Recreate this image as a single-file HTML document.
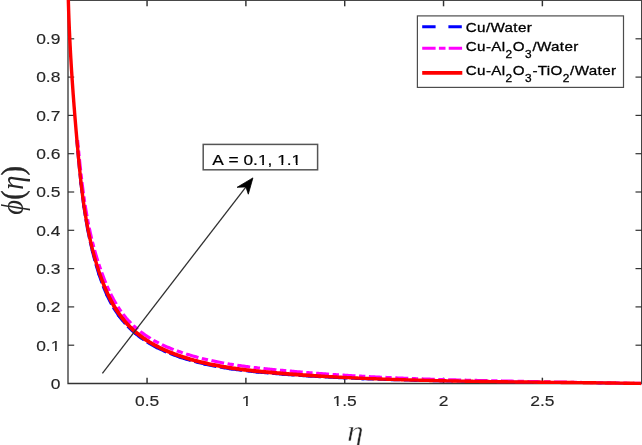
<!DOCTYPE html>
<html><head><meta charset="utf-8"><title>plot</title>
<style>html,body{margin:0;padding:0;background:#fff;overflow:hidden}svg{display:block}</style>
</head><body>
<svg width="642" height="445" viewBox="0 0 642 445">
<rect width="642" height="445" fill="#fff"/>
<g stroke="#333" stroke-width="1.3" fill="none">
<path d="M68.0,0 V383.5 H642"/>
<path d="M68.0,0.5 H642" stroke-width="1" stroke="#484848"/>
<path d="M641.5,0 V383.5" stroke-width="1" stroke="#444"/>
</g>
<g stroke="#333" stroke-width="1.45" fill="none">
<path d="M147.06,383.5 v-5.8"/><path d="M147.06,0.5 v5.8"/>
<path d="M245.89,383.5 v-5.8"/><path d="M245.89,0.5 v5.8"/>
<path d="M344.72,383.5 v-5.8"/><path d="M344.72,0.5 v5.8"/>
<path d="M443.54,383.5 v-5.8"/><path d="M443.54,0.5 v5.8"/>
<path d="M542.37,383.5 v-5.8"/><path d="M542.37,0.5 v5.8"/>
<path d="M68.0,345.20 h6.2" stroke-width="1.2"/><path d="M642,345.20 h-6.5" stroke-width="1.2"/>
<path d="M68.0,306.90 h6.2" stroke-width="1.2"/><path d="M642,306.90 h-6.5" stroke-width="1.2"/>
<path d="M68.0,268.60 h6.2" stroke-width="1.2"/><path d="M642,268.60 h-6.5" stroke-width="1.2"/>
<path d="M68.0,230.30 h6.2" stroke-width="1.2"/><path d="M642,230.30 h-6.5" stroke-width="1.2"/>
<path d="M68.0,192.00 h6.2" stroke-width="1.2"/><path d="M642,192.00 h-6.5" stroke-width="1.2"/>
<path d="M68.0,153.70 h6.2" stroke-width="1.2"/><path d="M642,153.70 h-6.5" stroke-width="1.2"/>
<path d="M68.0,115.40 h6.2" stroke-width="1.2"/><path d="M642,115.40 h-6.5" stroke-width="1.2"/>
<path d="M68.0,77.10 h6.2" stroke-width="1.2"/><path d="M642,77.10 h-6.5" stroke-width="1.2"/>
<path d="M68.0,38.80 h6.2" stroke-width="1.2"/><path d="M642,38.80 h-6.5" stroke-width="1.2"/>
</g>
<clipPath id="cl"><rect x="0" y="140" width="642" height="305"/></clipPath>
<g clip-path="url(#cl)"><g transform="scale(1.15,1)">
<path d="M59.28,-6.00 L59.42,-0.02 L59.44,1.21 L59.47,2.44 L59.50,3.68 L59.53,4.91 L59.56,6.14 L59.60,7.37 L59.63,8.60 L59.66,9.83 L59.69,11.06 L59.73,12.29 L59.77,13.53 L59.80,14.76 L59.84,15.99 L59.88,17.22 L59.92,18.45 L59.95,19.68 L59.99,20.91 L60.04,22.14 L60.08,23.37 L60.12,24.60 L60.16,25.83 L60.21,27.06 L60.25,28.28 L60.29,29.51 L60.34,30.74 L60.39,31.97 L60.43,33.20 L60.48,34.43 L60.53,35.66 L60.58,36.89 L60.63,38.11 L60.68,39.34 L60.73,40.57 L60.78,41.80 L60.84,43.03 L60.89,44.25 L60.94,45.48 L61.00,46.71 L61.05,47.94 L61.11,49.16 L61.16,50.39 L61.22,51.62 L61.28,52.85 L61.34,54.07 L61.40,55.30 L61.46,56.53 L61.52,57.75 L61.58,58.98 L61.64,60.21 L61.70,61.43 L61.76,62.66 L61.82,63.89 L61.89,65.11 L61.95,66.34 L62.02,67.56 L62.08,68.79 L62.15,70.02 L62.22,71.24 L62.28,72.47 L62.35,73.70 L62.42,74.92 L62.49,76.15 L62.56,77.37 L62.63,78.60 L62.70,79.82 L62.77,81.05 L62.84,82.28 L62.91,83.50 L62.98,84.73 L63.06,85.95 L63.13,87.18 L63.20,88.40 L63.28,89.63 L63.35,90.85 L63.43,92.08 L63.51,93.30 L63.58,94.53 L63.66,95.76 L63.74,96.98 L63.81,98.21 L63.89,99.43 L63.97,100.66 L64.05,101.88 L64.13,103.11 L64.21,104.33 L64.29,105.56 L64.37,106.78 L64.46,108.01 L64.54,109.23 L64.62,110.46 L64.70,111.68 L64.79,112.91 L64.87,114.13 L64.95,115.36 L65.04,116.58 L65.12,117.81 L65.21,119.03 L65.30,120.26 L65.38,121.48 L65.47,122.71 L65.56,123.94 L65.64,125.16 L65.73,126.39 L65.82,127.61 L65.91,128.84 L66.00,130.06 L66.09,131.29 L66.18,132.51 L66.27,133.74 L66.36,134.96 L66.45,136.19 L66.54,137.41 L66.63,138.64 L66.72,139.87 L66.82,141.09 L66.91,142.32 L67.00,143.54 L67.09,144.77 L67.19,146.00 L67.28,147.22 L67.38,148.45 L67.47,149.67 L67.57,150.90 L67.66,152.13 L67.76,153.35 L67.85,154.58 L67.95,155.80 L68.04,157.03 L68.14,158.26 L68.24,159.48 L68.34,160.71 L68.44,161.94 L68.54,163.16 L68.64,164.39 L68.74,165.61 L68.84,166.84 L68.95,168.07 L69.05,169.29 L69.16,170.52 L69.26,171.74 L69.37,172.97 L69.48,174.19 L69.59,175.42 L69.70,176.64 L69.81,177.87 L69.92,179.09 L70.04,180.32 L70.15,181.54 L70.27,182.77 L70.39,183.99 L70.51,185.21 L70.63,186.44 L70.75,187.66 L70.88,188.88 L71.00,190.10 L71.13,191.33 L71.26,192.55 L71.39,193.77 L71.52,194.99 L71.66,196.21 L71.79,197.43 L71.93,198.65 L72.07,199.87 L72.22,201.09 L72.36,202.31 L72.51,203.53 L72.65,204.75 L72.81,205.96 L72.96,207.18 L73.11,208.40 L73.26,209.62 L73.42,210.83 L73.58,212.05 L73.74,213.26 L73.91,214.48 L74.08,215.69 L74.25,216.90 L74.42,218.12 L74.59,219.33 L74.77,220.54 L74.95,221.75 L75.13,222.97 L75.32,224.18 L75.51,225.39 L75.70,226.60 L75.89,227.80 L76.09,229.01 L76.29,230.22 L76.49,231.43 L76.69,232.63 L76.90,233.84 L77.12,235.04 L77.33,236.25 L77.55,237.45 L77.77,238.65 L78.00,239.86 L78.22,241.06 L78.45,242.26 L78.69,243.46 L78.93,244.66 L79.17,245.86 L79.41,247.05 L79.66,248.25 L79.92,249.45 L80.17,250.64 L80.43,251.84 L80.69,253.04 L80.95,254.23 L81.21,255.43 L81.48,256.62 L81.75,257.81 L82.03,259.00 L82.31,260.20 L82.59,261.39 L82.88,262.58 L83.17,263.77 L83.47,264.95 L83.77,266.14 L84.08,267.33 L84.38,268.52 L84.70,269.70 L85.01,270.89 L85.34,272.07 L85.66,273.25 L85.99,274.43 L86.33,275.61 L86.68,276.79 L87.03,277.97 L87.38,279.14 L87.75,280.32 L88.11,281.49 L88.48,282.66 L88.86,283.83 L89.24,284.99 L89.63,286.16 L90.03,287.32 L90.43,288.48 L90.84,289.63 L91.25,290.78 L91.67,291.93 L92.10,293.08 L92.54,294.22 L92.98,295.36 L93.43,296.49 L93.89,297.62 L94.35,298.74 L94.83,299.86 L95.31,300.98 L95.81,302.08 L96.32,303.17 L96.84,304.26 L97.38,305.34 L97.92,306.42 L98.46,307.49 L99.02,308.55 L99.59,309.60 L100.17,310.65 L100.76,311.69 L101.36,312.72 L101.96,313.74 L102.58,314.76 L103.21,315.76 L103.85,316.76 L104.50,317.75 L105.16,318.73 L105.83,319.70 L106.51,320.66 L107.20,321.62 L107.90,322.56 L108.61,323.49 L109.33,324.41 L110.06,325.32 L110.79,326.22 L111.54,327.12 L112.30,328.00 L113.07,328.87 L113.84,329.73 L114.63,330.57 L115.42,331.41 L116.22,332.24 L117.03,333.05 L117.85,333.86 L118.68,334.65 L119.52,335.43 L120.37,336.20 L121.22,336.95 L122.08,337.70 L122.95,338.43 L123.83,339.15 L124.72,339.86 L125.61,340.55 L126.51,341.24 L127.41,341.91 L128.33,342.57 L129.25,343.23 L130.17,343.87 L131.10,344.50 L132.04,345.12 L132.98,345.72 L133.93,346.32 L134.89,346.91 L135.85,347.49 L136.81,348.06 L137.78,348.62 L138.75,349.17 L139.73,349.71 L140.71,350.24 L141.70,350.76 L142.69,351.27 L143.68,351.77 L144.68,352.27 L145.68,352.75 L146.68,353.23 L147.68,353.70 L148.69,354.16 L149.70,354.62 L150.72,355.06 L151.73,355.50 L152.75,355.93 L153.77,356.36 L154.79,356.77 L155.81,357.18 L156.84,357.58 L157.86,357.97 L158.89,358.35 L159.92,358.73 L160.95,359.10 L161.98,359.46 L163.01,359.82 L164.04,360.17 L165.08,360.51 L166.11,360.85 L167.15,361.18 L168.19,361.51 L169.22,361.83 L170.26,362.14 L171.30,362.45 L172.34,362.76 L173.39,363.05 L174.43,363.35 L175.47,363.63 L176.52,363.91 L177.56,364.19 L178.61,364.46 L179.65,364.73 L180.70,364.99 L181.75,365.24 L182.80,365.50 L183.85,365.74 L184.90,365.98 L185.95,366.22 L187.00,366.45 L188.06,366.68 L189.11,366.90 L190.16,367.12 L191.22,367.34 L192.27,367.55 L193.33,367.75 L194.39,367.95 L195.44,368.15 L196.50,368.35 L197.56,368.54 L198.62,368.72 L199.68,368.91 L200.74,369.09 L201.80,369.26 L202.86,369.44 L203.92,369.60 L204.98,369.77 L206.04,369.93 L207.11,370.09 L208.17,370.25 L209.23,370.40 L210.30,370.55 L211.36,370.70 L212.42,370.85 L213.49,370.99 L214.55,371.13 L215.62,371.27 L216.68,371.40 L217.75,371.53 L218.82,371.67 L219.88,371.79 L220.95,371.92 L222.01,372.04 L223.08,372.17 L224.15,372.29 L225.21,372.40 L226.28,372.52 L227.35,372.64 L228.42,372.75 L229.48,372.86 L230.55,372.97 L231.62,373.08 L232.68,373.19 L233.75,373.30 L234.82,373.40 L235.89,373.51 L236.95,373.61 L238.02,373.72 L239.09,373.82 L240.15,373.92 L241.22,374.02 L242.29,374.12 L243.36,374.22 L244.42,374.31 L245.49,374.41 L246.56,374.51 L247.63,374.60 L248.69,374.69 L249.76,374.79 L250.83,374.88 L251.89,374.97 L252.96,375.06 L254.03,375.15 L255.10,375.23 L256.16,375.32 L257.23,375.41 L258.30,375.49 L259.37,375.58 L260.43,375.66 L261.50,375.74 L262.57,375.83 L263.64,375.91 L264.70,375.99 L265.77,376.07 L266.84,376.14 L267.91,376.22 L268.97,376.30 L270.04,376.37 L271.11,376.45 L272.18,376.52 L273.24,376.60 L274.31,376.67 L275.38,376.74 L276.45,376.81 L277.51,376.88 L278.58,376.95 L279.65,377.02 L280.72,377.09 L281.79,377.16 L282.85,377.22 L283.92,377.29 L284.99,377.35 L286.06,377.42 L287.12,377.48 L288.19,377.54 L289.26,377.61 L290.33,377.67 L291.40,377.73 L292.46,377.79 L293.53,377.85 L294.60,377.91 L295.67,377.96 L296.73,378.02 L297.80,378.08 L298.87,378.14 L299.94,378.19 L301.01,378.25 L302.07,378.30 L303.14,378.35 L304.21,378.41 L305.28,378.46 L306.35,378.51 L307.42,378.56 L308.48,378.61 L309.55,378.66 L310.62,378.71 L311.69,378.76 L312.76,378.81 L313.82,378.86 L314.89,378.90 L315.96,378.95 L317.03,378.99 L318.10,379.04 L319.16,379.08 L320.23,379.13 L321.30,379.17 L322.37,379.22 L323.44,379.26 L324.51,379.30 L325.57,379.34 L326.64,379.39 L327.71,379.43 L328.78,379.47 L329.85,379.51 L330.92,379.55 L331.98,379.59 L333.05,379.62 L334.12,379.66 L335.19,379.70 L336.26,379.74 L337.33,379.77 L338.40,379.81 L339.46,379.85 L340.53,379.88 L341.60,379.92 L342.67,379.95 L343.74,379.99 L344.81,380.02 L345.88,380.05 L346.94,380.09 L348.01,380.12 L349.08,380.15 L350.15,380.19 L351.22,380.22 L352.29,380.25 L353.36,380.28 L354.43,380.31 L355.49,380.34 L356.56,380.37 L357.63,380.40 L358.70,380.43 L359.77,380.46 L360.84,380.49 L361.91,380.52 L362.98,380.54 L364.04,380.57 L365.11,380.60 L366.18,380.63 L367.25,380.65 L368.32,380.68 L369.39,380.70 L370.46,380.73 L371.53,380.76 L372.60,380.78 L373.67,380.81 L374.73,380.83 L375.80,380.85 L376.87,380.88 L377.94,380.90 L379.01,380.92 L380.08,380.95 L381.15,380.97 L382.22,380.99 L383.29,381.01 L384.36,381.04 L385.43,381.06 L386.49,381.08 L387.56,381.10 L388.63,381.13 L389.70,381.15 L390.77,381.17 L391.84,381.20 L392.91,381.22 L393.98,381.24 L395.05,381.26 L396.12,381.28 L397.19,381.30 L398.25,381.32 L399.32,381.35 L400.39,381.37 L401.46,381.39 L402.53,381.41 L403.60,381.43 L404.67,381.44 L405.74,381.46 L406.81,381.48 L407.88,381.50 L408.95,381.52 L410.02,381.54 L411.09,381.56 L412.16,381.57 L413.22,381.59 L414.29,381.61 L415.36,381.63 L416.43,381.64 L417.50,381.66 L418.57,381.68 L419.64,381.69 L420.71,381.71 L421.78,381.73 L422.85,381.74 L423.92,381.76 L424.99,381.77 L426.06,381.79 L427.13,381.81 L428.20,381.82 L429.26,381.84 L430.33,381.85 L431.40,381.87 L432.47,381.88 L433.54,381.89 L434.61,381.91 L435.68,381.92 L436.75,381.94 L437.82,381.95 L438.89,381.96 L439.96,381.98 L441.03,381.99 L442.10,382.00 L443.17,382.02 L444.24,382.03 L445.31,382.04 L446.37,382.06 L447.44,382.07 L448.51,382.08 L449.58,382.09 L450.65,382.11 L451.72,382.12 L452.79,382.13 L453.86,382.14 L454.93,382.16 L456.00,382.17 L457.07,382.18 L458.14,382.19 L459.21,382.20 L460.28,382.21 L461.35,382.23 L462.42,382.24 L463.49,382.25 L464.55,382.26 L465.62,382.27 L466.69,382.28 L467.76,382.29 L468.83,382.30 L469.90,382.32 L470.97,382.33 L472.04,382.34 L473.11,382.35 L474.18,382.36 L475.25,382.37 L476.32,382.39 L477.39,382.40 L478.46,382.41 L479.53,382.42 L480.60,382.43 L481.66,382.45 L482.73,382.46 L483.80,382.47 L484.87,382.48 L485.94,382.49 L487.01,382.51 L488.08,382.52 L489.15,382.53 L490.22,382.54 L491.29,382.55 L492.36,382.57 L493.43,382.58 L494.50,382.59 L495.56,382.60 L496.63,382.61 L497.70,382.63 L498.77,382.64 L499.84,382.65 L500.91,382.66 L501.98,382.67 L503.05,382.69 L504.12,382.70 L505.19,382.71 L506.26,382.72 L507.33,382.74 L508.40,382.75 L509.46,382.76 L510.53,382.77 L511.60,382.79 L512.67,382.80 L513.74,382.81 L514.81,382.82 L515.88,382.84 L516.95,382.85 L518.02,382.86 L519.09,382.88 L520.15,382.89 L521.22,382.90 L522.29,382.92 L523.36,382.93 L524.43,382.94 L525.50,382.96 L526.57,382.97 L527.64,382.98 L528.71,383.00 L529.77,383.01 L530.84,383.03 L531.91,383.04 L532.98,383.06 L534.05,383.07 L535.12,383.09 L536.19,383.10 L537.26,383.12 L538.33,383.13 L539.39,383.15 L540.46,383.16 L541.53,383.18 L542.60,383.19 L543.67,383.21 L544.74,383.22 L545.81,383.24 L546.87,383.26 L547.94,383.27 L549.01,383.29 L550.08,383.31 L551.15,383.32 L552.22,383.34 L553.29,383.36 L554.35,383.38 L555.42,383.39 L556.49,383.41 L557.56,383.43" fill="none" stroke="#0000ff" stroke-width="2.5" stroke-dasharray="11.3 11.65" stroke-dashoffset="18.27"/>
<path d="M59.28,-6.00 L59.42,-0.02 L59.44,1.21 L59.47,2.44 L59.50,3.68 L59.53,4.91 L59.56,6.14 L59.60,7.37 L59.63,8.60 L59.66,9.83 L59.69,11.06 L59.73,12.29 L59.77,13.53 L59.80,14.76 L59.84,15.99 L59.88,17.22 L59.92,18.45 L59.95,19.68 L59.99,20.91 L60.04,22.14 L60.08,23.37 L60.12,24.60 L60.16,25.83 L60.21,27.06 L60.25,28.28 L60.29,29.51 L60.34,30.74 L60.39,31.97 L60.43,33.20 L60.48,34.43 L60.53,35.66 L60.58,36.89 L60.63,38.11 L60.68,39.34 L60.73,40.57 L60.78,41.80 L60.84,43.03 L60.89,44.25 L60.94,45.48 L61.00,46.71 L61.05,47.94 L61.11,49.16 L61.16,50.39 L61.22,51.62 L61.28,52.85 L61.34,54.07 L61.40,55.30 L61.46,56.53 L61.52,57.75 L61.58,58.98 L61.64,60.21 L61.70,61.43 L61.76,62.66 L61.82,63.89 L61.89,65.11 L61.95,66.34 L62.02,67.56 L62.08,68.79 L62.15,70.02 L62.22,71.24 L62.28,72.47 L62.35,73.70 L62.42,74.92 L62.49,76.15 L62.56,77.37 L62.63,78.60 L62.70,79.82 L62.77,81.05 L62.84,82.28 L62.91,83.50 L62.98,84.73 L63.06,85.95 L63.13,87.18 L63.20,88.40 L63.28,89.63 L63.35,90.85 L63.43,92.08 L63.51,93.30 L63.58,94.53 L63.66,95.76 L63.74,96.98 L63.81,98.21 L63.89,99.43 L63.97,100.66 L64.05,101.88 L64.13,103.11 L64.21,104.33 L64.29,105.56 L64.37,106.78 L64.46,108.01 L64.54,109.23 L64.62,110.46 L64.70,111.68 L64.79,112.91 L64.87,114.13 L64.95,115.36 L65.04,116.58 L65.12,117.81 L65.21,119.03 L65.30,120.26 L65.38,121.48 L65.47,122.71 L65.56,123.94 L65.64,125.16 L65.73,126.39 L65.82,127.61 L65.91,128.84 L66.00,130.06 L66.09,131.29 L66.18,132.51 L66.27,133.74 L66.36,134.96 L66.45,136.19 L66.54,137.41 L66.63,138.64 L66.72,139.87 L66.82,141.09 L66.91,142.32 L67.00,143.54 L67.09,144.77 L67.19,146.00 L67.28,147.22 L67.38,148.45 L67.47,149.67 L67.57,150.90 L67.66,152.13 L67.76,153.35 L67.85,154.58 L67.95,155.80 L68.04,157.03 L68.14,158.26 L68.24,159.48 L68.34,160.71 L68.44,161.94 L68.54,163.16 L68.64,164.39 L68.74,165.61 L68.84,166.84 L68.95,168.07 L69.05,169.29 L69.16,170.52 L69.26,171.74 L69.37,172.97 L69.48,174.19 L69.59,175.42 L69.70,176.64 L69.81,177.87 L69.92,179.09 L70.04,180.32 L70.15,181.54 L70.27,182.77 L70.39,183.99 L70.51,185.21 L70.63,186.44 L70.75,187.66 L70.88,188.88 L71.00,190.10 L71.13,191.33 L71.26,192.55 L71.39,193.77 L71.52,194.99 L71.66,196.21 L71.79,197.43 L71.93,198.65 L72.07,199.87 L72.22,201.09 L72.36,202.31 L72.51,203.53 L72.65,204.75 L72.81,205.96 L72.96,207.18 L73.11,208.40 L73.26,209.62 L73.42,210.83 L73.58,212.05 L73.74,213.26 L73.91,214.48 L74.08,215.69 L74.25,216.90 L74.42,218.12 L74.59,219.33 L74.77,220.54 L74.95,221.75 L75.13,222.97 L75.32,224.18 L75.51,225.39 L75.70,226.60 L75.89,227.80 L76.09,229.01 L76.29,230.22 L76.49,231.43 L76.69,232.63 L76.90,233.84 L77.12,235.04 L77.33,236.25 L77.55,237.45 L77.77,238.65 L78.00,239.86 L78.22,241.06 L78.45,242.26 L78.69,243.46 L78.93,244.66 L79.17,245.86 L79.41,247.05 L79.66,248.25 L79.92,249.45 L80.17,250.64 L80.43,251.84 L80.69,253.04 L80.95,254.23 L81.21,255.43 L81.48,256.62 L81.75,257.81 L82.03,259.00 L82.31,260.20 L82.59,261.39 L82.88,262.58 L83.17,263.77 L83.47,264.95 L83.77,266.14 L84.08,267.33 L84.38,268.52 L84.70,269.70 L85.01,270.89 L85.34,272.07 L85.66,273.25 L85.99,274.43 L86.33,275.61 L86.68,276.79 L87.03,277.97 L87.38,279.14 L87.75,280.32 L88.11,281.49 L88.48,282.66 L88.86,283.83 L89.24,284.99 L89.63,286.16 L90.03,287.32 L90.43,288.48 L90.84,289.63 L91.25,290.78 L91.67,291.93 L92.10,293.08 L92.54,294.22 L92.98,295.36 L93.43,296.49 L93.89,297.62 L94.35,298.74 L94.83,299.86 L95.31,300.98 L95.81,302.08 L96.32,303.17 L96.84,304.26 L97.38,305.34 L97.92,306.42 L98.46,307.49 L99.02,308.55 L99.59,309.60 L100.17,310.65 L100.76,311.69 L101.36,312.72 L101.96,313.74 L102.58,314.76 L103.21,315.76 L103.85,316.76 L104.50,317.75 L105.16,318.73 L105.83,319.70 L106.51,320.66 L107.20,321.62 L107.90,322.56 L108.61,323.49 L109.33,324.41 L110.06,325.32 L110.79,326.22 L111.54,327.12 L112.30,328.00 L113.07,328.87 L113.84,329.73 L114.63,330.57 L115.42,331.41 L116.22,332.24 L117.03,333.05 L117.85,333.86 L118.68,334.65 L119.52,335.43 L120.37,336.20 L121.22,336.95 L122.08,337.70 L122.95,338.43 L123.83,339.15 L124.72,339.86 L125.61,340.55 L126.51,341.24 L127.41,341.91 L128.33,342.57 L129.25,343.23 L130.17,343.87 L131.10,344.50 L132.04,345.12 L132.98,345.72 L133.93,346.32 L134.89,346.91 L135.85,347.49 L136.81,348.06 L137.78,348.62 L138.75,349.17 L139.73,349.71 L140.71,350.24 L141.70,350.76 L142.69,351.27 L143.68,351.77 L144.68,352.27 L145.68,352.75 L146.68,353.23 L147.68,353.70 L148.69,354.16 L149.70,354.62 L150.72,355.06 L151.73,355.50 L152.75,355.93 L153.77,356.36 L154.79,356.77 L155.81,357.18 L156.84,357.58 L157.86,357.97 L158.89,358.35 L159.92,358.73 L160.95,359.10 L161.98,359.46 L163.01,359.82 L164.04,360.17 L165.08,360.51 L166.11,360.85 L167.15,361.18 L168.19,361.51 L169.22,361.83 L170.26,362.14 L171.30,362.45 L172.34,362.76 L173.39,363.05 L174.43,363.35 L175.47,363.63 L176.52,363.91 L177.56,364.19 L178.61,364.46 L179.65,364.73 L180.70,364.99 L181.75,365.24 L182.80,365.50 L183.85,365.74 L184.90,365.98 L185.95,366.22 L187.00,366.45 L188.06,366.68 L189.11,366.90 L190.16,367.12 L191.22,367.34 L192.27,367.55 L193.33,367.75 L194.39,367.95 L195.44,368.15 L196.50,368.35 L197.56,368.54 L198.62,368.72 L199.68,368.91 L200.74,369.09 L201.80,369.26 L202.86,369.44 L203.92,369.60 L204.98,369.77 L206.04,369.93 L207.11,370.09 L208.17,370.25 L209.23,370.40 L210.30,370.55 L211.36,370.70 L212.42,370.85 L213.49,370.99 L214.55,371.13 L215.62,371.27 L216.68,371.40 L217.75,371.53 L218.82,371.67 L219.88,371.79 L220.95,371.92 L222.01,372.04 L223.08,372.17 L224.15,372.29 L225.21,372.40 L226.28,372.52 L227.35,372.64 L228.42,372.75 L229.48,372.86 L230.55,372.97 L231.62,373.08 L232.68,373.19 L233.75,373.30 L234.82,373.40 L235.89,373.51 L236.95,373.61 L238.02,373.72 L239.09,373.82 L240.15,373.92 L241.22,374.02 L242.29,374.12 L243.36,374.22 L244.42,374.31 L245.49,374.41 L246.56,374.51 L247.63,374.60 L248.69,374.69 L249.76,374.79 L250.83,374.88 L251.89,374.97 L252.96,375.06 L254.03,375.15 L255.10,375.23 L256.16,375.32 L257.23,375.41 L258.30,375.49 L259.37,375.58 L260.43,375.66 L261.50,375.74 L262.57,375.83 L263.64,375.91 L264.70,375.99 L265.77,376.07 L266.84,376.14 L267.91,376.22 L268.97,376.30 L270.04,376.37 L271.11,376.45 L272.18,376.52 L273.24,376.60 L274.31,376.67 L275.38,376.74 L276.45,376.81 L277.51,376.88 L278.58,376.95 L279.65,377.02 L280.72,377.09 L281.79,377.16 L282.85,377.22 L283.92,377.29 L284.99,377.35 L286.06,377.42 L287.12,377.48 L288.19,377.54 L289.26,377.61 L290.33,377.67 L291.40,377.73 L292.46,377.79 L293.53,377.85 L294.60,377.91 L295.67,377.96 L296.73,378.02 L297.80,378.08 L298.87,378.14 L299.94,378.19 L301.01,378.25 L302.07,378.30 L303.14,378.35 L304.21,378.41 L305.28,378.46 L306.35,378.51 L307.42,378.56 L308.48,378.61 L309.55,378.66 L310.62,378.71 L311.69,378.76 L312.76,378.81 L313.82,378.86 L314.89,378.90 L315.96,378.95 L317.03,378.99 L318.10,379.04 L319.16,379.08 L320.23,379.13 L321.30,379.17 L322.37,379.22 L323.44,379.26 L324.51,379.30 L325.57,379.34 L326.64,379.39 L327.71,379.43 L328.78,379.47 L329.85,379.51 L330.92,379.55 L331.98,379.59 L333.05,379.62 L334.12,379.66 L335.19,379.70 L336.26,379.74 L337.33,379.77 L338.40,379.81 L339.46,379.85 L340.53,379.88 L341.60,379.92 L342.67,379.95 L343.74,379.99 L344.81,380.02 L345.88,380.05 L346.94,380.09 L348.01,380.12 L349.08,380.15 L350.15,380.19 L351.22,380.22 L352.29,380.25 L353.36,380.28 L354.43,380.31 L355.49,380.34 L356.56,380.37 L357.63,380.40 L358.70,380.43 L359.77,380.46 L360.84,380.49 L361.91,380.52 L362.98,380.54 L364.04,380.57 L365.11,380.60 L366.18,380.63 L367.25,380.65 L368.32,380.68 L369.39,380.70 L370.46,380.73 L371.53,380.76 L372.60,380.78 L373.67,380.81 L374.73,380.83 L375.80,380.85 L376.87,380.88 L377.94,380.90 L379.01,380.92 L380.08,380.95 L381.15,380.97 L382.22,380.99 L383.29,381.01 L384.36,381.04 L385.43,381.06 L386.49,381.08 L387.56,381.10 L388.63,381.13 L389.70,381.15 L390.77,381.17 L391.84,381.20 L392.91,381.22 L393.98,381.24 L395.05,381.26 L396.12,381.28 L397.19,381.30 L398.25,381.32 L399.32,381.35 L400.39,381.37 L401.46,381.39 L402.53,381.41 L403.60,381.43 L404.67,381.44 L405.74,381.46 L406.81,381.48 L407.88,381.50 L408.95,381.52 L410.02,381.54 L411.09,381.56 L412.16,381.57 L413.22,381.59 L414.29,381.61 L415.36,381.63 L416.43,381.64 L417.50,381.66 L418.57,381.68 L419.64,381.69 L420.71,381.71 L421.78,381.73 L422.85,381.74 L423.92,381.76 L424.99,381.77 L426.06,381.79 L427.13,381.81 L428.20,381.82 L429.26,381.84 L430.33,381.85 L431.40,381.87 L432.47,381.88 L433.54,381.89 L434.61,381.91 L435.68,381.92 L436.75,381.94 L437.82,381.95 L438.89,381.96 L439.96,381.98 L441.03,381.99 L442.10,382.00 L443.17,382.02 L444.24,382.03 L445.31,382.04 L446.37,382.06 L447.44,382.07 L448.51,382.08 L449.58,382.09 L450.65,382.11 L451.72,382.12 L452.79,382.13 L453.86,382.14 L454.93,382.16 L456.00,382.17 L457.07,382.18 L458.14,382.19 L459.21,382.20 L460.28,382.21 L461.35,382.23 L462.42,382.24 L463.49,382.25 L464.55,382.26 L465.62,382.27 L466.69,382.28 L467.76,382.29 L468.83,382.30 L469.90,382.32 L470.97,382.33 L472.04,382.34 L473.11,382.35 L474.18,382.36 L475.25,382.37 L476.32,382.39 L477.39,382.40 L478.46,382.41 L479.53,382.42 L480.60,382.43 L481.66,382.45 L482.73,382.46 L483.80,382.47 L484.87,382.48 L485.94,382.49 L487.01,382.51 L488.08,382.52 L489.15,382.53 L490.22,382.54 L491.29,382.55 L492.36,382.57 L493.43,382.58 L494.50,382.59 L495.56,382.60 L496.63,382.61 L497.70,382.63 L498.77,382.64 L499.84,382.65 L500.91,382.66 L501.98,382.67 L503.05,382.69 L504.12,382.70 L505.19,382.71 L506.26,382.72 L507.33,382.74 L508.40,382.75 L509.46,382.76 L510.53,382.77 L511.60,382.79 L512.67,382.80 L513.74,382.81 L514.81,382.82 L515.88,382.84 L516.95,382.85 L518.02,382.86 L519.09,382.88 L520.15,382.89 L521.22,382.90 L522.29,382.92 L523.36,382.93 L524.43,382.94 L525.50,382.96 L526.57,382.97 L527.64,382.98 L528.71,383.00 L529.77,383.01 L530.84,383.03 L531.91,383.04 L532.98,383.06 L534.05,383.07 L535.12,383.09 L536.19,383.10 L537.26,383.12 L538.33,383.13 L539.39,383.15 L540.46,383.16 L541.53,383.18 L542.60,383.19 L543.67,383.21 L544.74,383.22 L545.81,383.24 L546.87,383.26 L547.94,383.27 L549.01,383.29 L550.08,383.31 L551.15,383.32 L552.22,383.34 L553.29,383.36 L554.35,383.38 L555.42,383.39 L556.49,383.41 L557.56,383.43" fill="none" stroke="#0000ff" stroke-width="2.5" stroke-dasharray="11.3 11.65" stroke-dashoffset="26.77"/>
<path d="M59.29,-6.00 L59.43,-0.02 L59.46,1.21 L59.49,2.44 L59.53,3.67 L59.56,4.91 L59.59,6.14 L59.62,7.37 L59.66,8.60 L59.69,9.83 L59.73,11.06 L59.77,12.29 L59.81,13.52 L59.84,14.75 L59.88,15.98 L59.92,17.22 L59.96,18.45 L60.01,19.68 L60.05,20.90 L60.09,22.13 L60.14,23.36 L60.18,24.59 L60.23,25.82 L60.27,27.05 L60.32,28.28 L60.37,29.51 L60.42,30.74 L60.47,31.97 L60.52,33.20 L60.57,34.42 L60.62,35.65 L60.67,36.88 L60.72,38.11 L60.78,39.34 L60.83,40.56 L60.89,41.79 L60.94,43.02 L61.00,44.25 L61.06,45.47 L61.11,46.70 L61.17,47.93 L61.23,49.16 L61.29,50.38 L61.35,51.61 L61.41,52.84 L61.48,54.06 L61.54,55.29 L61.60,56.52 L61.66,57.74 L61.73,58.97 L61.79,60.20 L61.86,61.42 L61.93,62.65 L61.99,63.87 L62.06,65.10 L62.13,66.33 L62.20,67.55 L62.27,68.78 L62.34,70.00 L62.41,71.23 L62.48,72.45 L62.55,73.68 L62.62,74.91 L62.70,76.13 L62.77,77.36 L62.85,78.58 L62.92,79.81 L63.00,81.03 L63.07,82.26 L63.15,83.48 L63.23,84.71 L63.30,85.93 L63.38,87.16 L63.46,88.38 L63.54,89.61 L63.62,90.83 L63.70,92.06 L63.78,93.28 L63.86,94.51 L63.94,95.73 L64.03,96.96 L64.11,98.18 L64.19,99.41 L64.28,100.63 L64.36,101.85 L64.44,103.08 L64.53,104.30 L64.62,105.53 L64.70,106.75 L64.79,107.98 L64.88,109.20 L64.96,110.43 L65.05,111.65 L65.14,112.88 L65.23,114.10 L65.32,115.32 L65.41,116.55 L65.50,117.77 L65.59,119.00 L65.69,120.22 L65.78,121.45 L65.88,122.67 L65.98,123.89 L66.07,125.12 L66.17,126.34 L66.27,127.57 L66.36,128.79 L66.46,130.02 L66.56,131.24 L66.66,132.47 L66.76,133.69 L66.86,134.91 L66.96,136.14 L67.06,137.36 L67.16,138.59 L67.26,139.81 L67.36,141.04 L67.46,142.26 L67.57,143.49 L67.67,144.71 L67.77,145.94 L67.88,147.16 L67.98,148.38 L68.08,149.61 L68.19,150.83 L68.29,152.06 L68.40,153.28 L68.50,154.51 L68.61,155.73 L68.72,156.96 L68.82,158.18 L68.93,159.41 L69.04,160.63 L69.15,161.86 L69.26,163.08 L69.37,164.31 L69.48,165.53 L69.60,166.76 L69.71,167.98 L69.82,169.20 L69.94,170.43 L70.06,171.65 L70.17,172.87 L70.29,174.10 L70.41,175.32 L70.54,176.54 L70.66,177.76 L70.78,178.99 L70.91,180.21 L71.04,181.43 L71.16,182.65 L71.29,183.87 L71.43,185.09 L71.56,186.31 L71.69,187.53 L71.83,188.75 L71.97,189.97 L72.11,191.19 L72.25,192.41 L72.40,193.62 L72.54,194.84 L72.69,196.06 L72.84,197.27 L72.99,198.49 L73.15,199.70 L73.30,200.92 L73.46,202.13 L73.62,203.35 L73.78,204.56 L73.95,205.77 L74.11,206.98 L74.28,208.19 L74.46,209.41 L74.63,210.62 L74.81,211.82 L74.99,213.03 L75.17,214.24 L75.35,215.45 L75.54,216.65 L75.73,217.86 L75.93,219.07 L76.12,220.27 L76.32,221.47 L76.52,222.68 L76.73,223.88 L76.94,225.08 L77.15,226.28 L77.36,227.48 L77.58,228.68 L77.80,229.87 L78.03,231.07 L78.25,232.27 L78.48,233.46 L78.72,234.65 L78.95,235.85 L79.20,237.04 L79.44,238.23 L79.69,239.42 L79.94,240.61 L80.20,241.80 L80.45,242.98 L80.72,244.17 L80.98,245.35 L81.25,246.54 L81.53,247.72 L81.81,248.90 L82.09,250.08 L82.37,251.26 L82.66,252.43 L82.96,253.61 L83.25,254.78 L83.56,255.96 L83.86,257.13 L84.17,258.30 L84.49,259.47 L84.80,260.64 L85.13,261.81 L85.45,262.97 L85.79,264.14 L86.12,265.30 L86.46,266.46 L86.81,267.62 L87.16,268.78 L87.51,269.94 L87.87,271.09 L88.24,272.25 L88.60,273.40 L88.97,274.55 L89.34,275.71 L89.72,276.86 L90.10,278.00 L90.48,279.15 L90.87,280.29 L91.27,281.43 L91.67,282.57 L92.08,283.70 L92.49,284.83 L92.91,285.96 L93.33,287.08 L93.76,288.20 L94.20,289.31 L94.65,290.42 L95.10,291.52 L95.55,292.62 L96.02,293.71 L96.49,294.80 L96.97,295.88 L97.46,296.95 L97.95,298.02 L98.46,299.08 L98.96,300.14 L99.47,301.19 L99.99,302.24 L100.52,303.28 L101.05,304.31 L101.59,305.33 L102.15,306.35 L102.71,307.35 L103.28,308.35 L103.86,309.34 L104.44,310.32 L105.04,311.29 L105.65,312.26 L106.26,313.21 L106.89,314.15 L107.53,315.09 L108.17,316.01 L108.83,316.93 L109.49,317.84 L110.17,318.73 L110.85,319.62 L111.54,320.50 L112.25,321.36 L112.96,322.22 L113.68,323.06 L114.41,323.90 L115.14,324.72 L115.89,325.54 L116.64,326.34 L117.41,327.13 L118.18,327.91 L118.96,328.68 L119.75,329.44 L120.54,330.18 L121.35,330.92 L122.16,331.64 L122.98,332.35 L123.80,333.05 L124.63,333.75 L125.46,334.44 L126.30,335.12 L127.15,335.78 L128.01,336.44 L128.87,337.09 L129.74,337.72 L130.62,338.35 L131.50,338.96 L132.40,339.57 L133.29,340.16 L134.20,340.75 L135.11,341.32 L136.02,341.89 L136.95,342.44 L137.87,342.99 L138.81,343.53 L139.74,344.06 L140.69,344.58 L141.64,345.09 L142.59,345.59 L143.55,346.08 L144.51,346.57 L145.47,347.05 L146.44,347.51 L147.42,347.98 L148.39,348.43 L149.37,348.87 L150.36,349.31 L151.34,349.74 L152.33,350.16 L153.32,350.58 L154.32,350.99 L155.31,351.39 L156.31,351.79 L157.31,352.17 L158.31,352.57 L159.31,352.96 L160.31,353.34 L161.32,353.72 L162.32,354.09 L163.33,354.45 L164.33,354.81 L165.34,355.16 L166.35,355.51 L167.36,355.85 L168.37,356.18 L169.39,356.51 L170.40,356.83 L171.42,357.15 L172.43,357.46 L173.45,357.77 L174.47,358.07 L175.49,358.37 L176.51,358.66 L177.54,358.94 L178.56,359.22 L179.59,359.50 L180.62,359.77 L181.64,360.03 L182.67,360.29 L183.70,360.55 L184.73,360.81 L185.76,361.07 L186.80,361.32 L187.83,361.56 L188.86,361.80 L189.90,362.04 L190.94,362.27 L191.97,362.50 L193.01,362.73 L194.05,362.95 L195.09,363.16 L196.13,363.37 L197.17,363.58 L198.22,363.79 L199.26,363.99 L200.31,364.19 L201.35,364.38 L202.40,364.57 L203.45,364.76 L204.49,364.95 L205.54,365.13 L206.59,365.31 L207.64,365.48 L208.69,365.65 L209.75,365.82 L210.80,365.99 L211.85,366.15 L212.90,366.31 L213.96,366.47 L215.01,366.63 L216.07,366.78 L217.13,366.93 L218.18,367.08 L219.24,367.23 L220.30,367.38 L221.36,367.52 L222.41,367.66 L223.47,367.80 L224.53,367.94 L225.59,368.07 L226.65,368.20 L227.71,368.34 L228.77,368.47 L229.84,368.60 L230.90,368.72 L231.96,368.85 L233.02,368.98 L234.08,369.10 L235.15,369.22 L236.21,369.34 L237.27,369.47 L238.34,369.59 L239.40,369.70 L240.46,369.82 L241.52,369.94 L242.59,370.06 L243.65,370.17 L244.71,370.28 L245.78,370.40 L246.84,370.51 L247.90,370.62 L248.97,370.73 L250.03,370.84 L251.09,370.95 L252.16,371.06 L253.22,371.16 L254.29,371.27 L255.35,371.37 L256.41,371.48 L257.48,371.58 L258.54,371.68 L259.60,371.78 L260.67,371.88 L261.73,371.99 L262.80,372.09 L263.86,372.19 L264.92,372.30 L265.99,372.40 L267.05,372.50 L268.12,372.60 L269.18,372.70 L270.24,372.80 L271.31,372.89 L272.37,372.99 L273.44,373.09 L274.50,373.18 L275.57,373.28 L276.63,373.37 L277.70,373.46 L278.76,373.55 L279.83,373.65 L280.89,373.74 L281.95,373.83 L283.02,373.91 L284.08,374.00 L285.15,374.09 L286.21,374.18 L287.28,374.26 L288.34,374.35 L289.41,374.43 L290.48,374.52 L291.54,374.60 L292.61,374.68 L293.67,374.77 L294.74,374.85 L295.80,374.93 L296.87,375.01 L297.93,375.09 L299.00,375.17 L300.06,375.24 L301.13,375.32 L302.20,375.39 L303.26,375.47 L304.33,375.54 L305.39,375.61 L306.46,375.68 L307.53,375.75 L308.59,375.82 L309.66,375.89 L310.72,375.96 L311.79,376.03 L312.86,376.10 L313.92,376.17 L314.99,376.23 L316.06,376.30 L317.12,376.37 L318.19,376.43 L319.26,376.50 L320.32,376.56 L321.39,376.63 L322.46,376.69 L323.52,376.75 L324.59,376.81 L325.66,376.88 L326.72,376.94 L327.79,377.00 L328.86,377.06 L329.92,377.12 L330.99,377.18 L332.06,377.24 L333.12,377.30 L334.19,377.35 L335.26,377.41 L336.33,377.47 L337.39,377.53 L338.46,377.58 L339.53,377.64 L340.60,377.69 L341.66,377.74 L342.73,377.80 L343.80,377.85 L344.87,377.90 L345.93,377.95 L347.00,378.00 L348.07,378.05 L349.14,378.10 L350.20,378.15 L351.27,378.20 L352.34,378.25 L353.41,378.30 L354.47,378.35 L355.54,378.40 L356.61,378.45 L357.68,378.49 L358.75,378.54 L359.81,378.59 L360.88,378.63 L361.95,378.68 L363.02,378.73 L364.09,378.77 L365.15,378.82 L366.22,378.86 L367.29,378.90 L368.36,378.95 L369.43,378.99 L370.50,379.04 L371.56,379.08 L372.63,379.12 L373.70,379.16 L374.77,379.21 L375.84,379.25 L376.90,379.29 L377.97,379.33 L379.04,379.37 L380.11,379.41 L381.18,379.45 L382.25,379.49 L383.32,379.53 L384.38,379.57 L385.45,379.61 L386.52,379.64 L387.59,379.67 L388.66,379.71 L389.73,379.74 L390.80,379.77 L391.86,379.80 L392.93,379.83 L394.00,379.86 L395.07,379.89 L396.14,379.92 L397.21,379.96 L398.28,379.98 L399.35,380.01 L400.41,380.04 L401.48,380.07 L402.55,380.10 L403.62,380.13 L404.69,380.16 L405.76,380.19 L406.83,380.22 L407.90,380.24 L408.97,380.27 L410.03,380.30 L411.10,380.33 L412.17,380.35 L413.24,380.38 L414.31,380.41 L415.38,380.43 L416.45,380.46 L417.52,380.48 L418.59,380.51 L419.66,380.54 L420.72,380.56 L421.79,380.59 L422.86,380.61 L423.93,380.64 L425.00,380.66 L426.07,380.68 L427.14,380.71 L428.21,380.74 L429.28,380.77 L430.35,380.79 L431.42,380.82 L432.49,380.85 L433.55,380.87 L434.62,380.90 L435.69,380.92 L436.76,380.95 L437.83,380.98 L438.90,381.00 L439.97,381.03 L441.04,381.05 L442.11,381.08 L443.18,381.10 L444.25,381.13 L445.32,381.15 L446.38,381.18 L447.45,381.20 L448.52,381.23 L449.59,381.25 L450.66,381.28 L451.73,381.30 L452.80,381.32 L453.87,381.35 L454.94,381.37 L456.01,381.40 L457.08,381.42 L458.15,381.44 L459.22,381.47 L460.28,381.49 L461.35,381.51 L462.42,381.54 L463.49,381.56 L464.56,381.58 L465.63,381.61 L466.70,381.63 L467.77,381.65 L468.84,381.68 L469.91,381.70 L470.98,381.72 L472.05,381.75 L473.12,381.77 L474.18,381.79 L475.25,381.81 L476.32,381.83 L477.39,381.85 L478.46,381.88 L479.53,381.90 L480.60,381.92 L481.67,381.94 L482.74,381.96 L483.81,381.98 L484.88,382.01 L485.95,382.03 L487.02,382.05 L488.08,382.07 L489.15,382.09 L490.22,382.11 L491.29,382.14 L492.36,382.16 L493.43,382.18 L494.50,382.20 L495.57,382.22 L496.64,382.24 L497.71,382.27 L498.78,382.29 L499.84,382.31 L500.91,382.33 L501.98,382.35 L503.05,382.38 L504.12,382.40 L505.19,382.42 L506.26,382.44 L507.33,382.46 L508.40,382.49 L509.47,382.51 L510.54,382.53 L511.60,382.55 L512.67,382.57 L513.74,382.60 L514.81,382.62 L515.88,382.64 L516.95,382.67 L518.02,382.69 L519.09,382.71 L520.16,382.73 L521.23,382.76 L522.29,382.78 L523.36,382.79 L524.43,382.81 L525.50,382.83 L526.57,382.85 L527.64,382.87 L528.71,382.88 L529.78,382.90 L530.84,382.92 L531.91,382.94 L532.98,382.96 L534.05,382.98 L535.12,383.00 L536.19,383.02 L537.26,383.04 L538.33,383.05 L539.40,383.07 L540.46,383.09 L541.53,383.11 L542.60,383.13 L543.67,383.15 L544.74,383.17 L545.81,383.19 L546.88,383.22 L547.94,383.24 L549.01,383.26 L550.08,383.28 L551.15,383.30 L552.22,383.32 L553.29,383.34 L554.35,383.36 L555.42,383.39 L556.49,383.41 L557.56,383.43" fill="none" stroke="#ff00ff" stroke-width="3.1" stroke-dasharray="11.3 3.1 5.5 3.1" stroke-dashoffset="18.46"/>
</g></g>
<path d="M69.88,-6.04 L70.03,-0.07 L70.07,1.17 L70.10,2.40 L70.13,3.63 L70.17,4.86 L70.21,6.09 L70.24,7.32 L70.28,8.55 L70.32,9.78 L70.36,11.01 L70.40,12.24 L70.44,13.47 L70.49,14.70 L70.53,15.93 L70.57,17.15 L70.62,18.38 L70.66,19.61 L70.71,20.84 L70.76,22.07 L70.81,23.30 L70.86,24.53 L70.91,25.75 L70.96,26.98 L71.01,28.21 L71.06,29.44 L71.12,30.67 L71.17,31.89 L71.23,33.12 L71.28,34.35 L71.34,35.58 L71.40,36.80 L71.45,38.03 L71.51,39.26 L71.57,40.48 L71.63,41.71 L71.70,42.94 L71.76,44.16 L71.82,45.39 L71.88,46.62 L71.95,47.84 L72.01,49.07 L72.08,50.30 L72.15,51.52 L72.21,52.75 L72.28,53.97 L72.35,55.20 L72.42,56.43 L72.49,57.65 L72.56,58.88 L72.63,60.10 L72.71,61.33 L72.78,62.55 L72.85,63.78 L72.93,65.00 L73.00,66.23 L73.08,67.46 L73.16,68.68 L73.23,69.91 L73.31,71.13 L73.39,72.36 L73.47,73.58 L73.55,74.81 L73.63,76.03 L73.71,77.25 L73.79,78.48 L73.88,79.70 L73.96,80.93 L74.04,82.15 L74.13,83.38 L74.21,84.60 L74.30,85.83 L74.38,87.05 L74.47,88.28 L74.56,89.50 L74.65,90.73 L74.73,91.95 L74.82,93.17 L74.91,94.40 L75.00,95.62 L75.09,96.85 L75.18,98.07 L75.28,99.30 L75.37,100.52 L75.46,101.74 L75.56,102.97 L75.65,104.19 L75.74,105.42 L75.84,106.64 L75.94,107.87 L76.03,109.09 L76.13,110.31 L76.23,111.54 L76.32,112.76 L76.42,113.99 L76.52,115.21 L76.62,116.44 L76.72,117.66 L76.82,118.88 L76.92,120.11 L77.02,121.33 L77.12,122.56 L77.22,123.78 L77.33,125.01 L77.43,126.23 L77.53,127.46 L77.64,128.68 L77.74,129.90 L77.85,131.13 L77.95,132.35 L78.06,133.58 L78.16,134.80 L78.27,136.03 L78.38,137.25 L78.48,138.48 L78.59,139.70 L78.70,140.93 L78.81,142.15 L78.92,143.38 L79.03,144.60 L79.14,145.83 L79.25,147.05 L79.36,148.28 L79.47,149.50 L79.58,150.73 L79.69,151.95 L79.80,153.18 L79.91,154.41 L80.03,155.63 L80.14,156.86 L80.25,158.08 L80.37,159.31 L80.48,160.53 L80.60,161.76 L80.72,162.98 L80.84,164.20 L80.95,165.43 L81.07,166.65 L81.19,167.88 L81.32,169.10 L81.44,170.32 L81.56,171.55 L81.69,172.77 L81.82,173.99 L81.94,175.22 L82.07,176.44 L82.20,177.66 L82.34,178.88 L82.47,180.11 L82.60,181.33 L82.74,182.55 L82.88,183.77 L83.02,184.99 L83.16,186.21 L83.31,187.43 L83.45,188.65 L83.60,189.87 L83.75,191.09 L83.90,192.30 L84.05,193.52 L84.21,194.74 L84.36,195.96 L84.52,197.17 L84.69,198.39 L84.85,199.60 L85.02,200.82 L85.19,202.03 L85.36,203.25 L85.53,204.46 L85.71,205.67 L85.88,206.89 L86.07,208.10 L86.25,209.31 L86.44,210.52 L86.63,211.73 L86.82,212.94 L87.01,214.15 L87.21,215.36 L87.41,216.56 L87.62,217.77 L87.82,218.98 L88.03,220.18 L88.24,221.39 L88.46,222.59 L88.68,223.80 L88.90,225.00 L89.13,226.20 L89.36,227.40 L89.59,228.60 L89.83,229.80 L90.07,231.00 L90.31,232.20 L90.56,233.40 L90.81,234.60 L91.06,235.79 L91.32,236.99 L91.58,238.18 L91.85,239.37 L92.12,240.57 L92.39,241.76 L92.67,242.95 L92.95,244.14 L93.23,245.33 L93.52,246.52 L93.82,247.70 L94.12,248.89 L94.42,250.07 L94.72,251.26 L95.04,252.44 L95.35,253.62 L95.67,254.80 L96.00,255.98 L96.32,257.16 L96.66,258.34 L97.00,259.52 L97.35,260.69 L97.70,261.87 L98.06,263.04 L98.42,264.21 L98.78,265.38 L99.16,266.55 L99.53,267.72 L99.91,268.88 L100.30,270.05 L100.69,271.21 L101.09,272.38 L101.49,273.54 L101.90,274.70 L102.31,275.86 L102.73,277.01 L103.16,278.17 L103.59,279.32 L104.02,280.47 L104.47,281.62 L104.92,282.77 L105.37,283.91 L105.83,285.05 L106.30,286.18 L106.78,287.31 L107.26,288.44 L107.75,289.56 L108.25,290.68 L108.75,291.80 L109.27,292.91 L109.79,294.01 L110.32,295.11 L110.86,296.20 L111.41,297.29 L111.96,298.37 L112.53,299.45 L113.10,300.52 L113.68,301.58 L114.27,302.64 L114.86,303.69 L115.47,304.74 L116.08,305.78 L116.71,306.81 L117.34,307.84 L117.99,308.85 L118.64,309.86 L119.31,310.86 L119.99,311.85 L120.68,312.84 L121.38,313.81 L122.09,314.78 L122.81,315.74 L123.54,316.68 L124.29,317.62 L125.05,318.55 L125.81,319.47 L126.59,320.39 L127.38,321.29 L128.18,322.18 L128.99,323.06 L129.82,323.93 L130.65,324.80 L131.49,325.65 L132.34,326.49 L133.21,327.32 L134.08,328.14 L134.96,328.95 L135.86,329.75 L136.76,330.54 L137.67,331.32 L138.59,332.08 L139.52,332.84 L140.46,333.58 L141.41,334.31 L142.37,335.03 L143.34,335.74 L144.32,336.43 L145.30,337.12 L146.30,337.80 L147.30,338.46 L148.31,339.11 L149.33,339.76 L150.36,340.39 L151.39,341.01 L152.44,341.63 L153.49,342.23 L154.54,342.82 L155.60,343.40 L156.67,343.98 L157.75,344.54 L158.83,345.10 L159.92,345.64 L161.01,346.18 L162.11,346.71 L163.22,347.23 L164.33,347.74 L165.44,348.24 L166.56,348.73 L167.68,349.21 L168.81,349.69 L169.94,350.16 L171.08,350.62 L172.21,351.07 L173.36,351.52 L174.50,351.96 L175.65,352.39 L176.80,352.81 L177.95,353.23 L179.11,353.64 L180.27,354.04 L181.43,354.44 L182.59,354.83 L183.75,355.21 L184.91,355.59 L186.08,355.96 L187.25,356.32 L188.41,356.68 L189.58,357.03 L190.76,357.38 L191.93,357.72 L193.10,358.05 L194.28,358.38 L195.46,358.70 L196.63,359.01 L197.81,359.32 L198.99,359.63 L200.18,359.93 L201.36,360.22 L202.54,360.51 L203.73,360.79 L204.92,361.07 L206.11,361.35 L207.30,361.61 L208.49,361.88 L209.68,362.14 L210.87,362.39 L212.07,362.64 L213.26,362.88 L214.46,363.12 L215.65,363.36 L216.85,363.59 L218.05,363.81 L219.25,364.03 L220.45,364.25 L221.66,364.47 L222.86,364.67 L224.06,364.88 L225.27,365.08 L226.47,365.28 L227.68,365.47 L228.89,365.66 L230.10,365.85 L231.31,366.03 L232.52,366.21 L233.73,366.39 L234.94,366.56 L236.15,366.73 L237.36,366.90 L238.58,367.06 L239.79,367.22 L241.01,367.38 L242.22,367.54 L243.44,367.69 L244.65,367.84 L245.87,367.99 L247.09,368.13 L248.31,368.27 L249.53,368.41 L250.75,368.55 L251.97,368.68 L253.19,368.82 L254.41,368.95 L255.63,369.08 L256.85,369.20 L258.07,369.33 L259.29,369.45 L260.52,369.57 L261.74,369.69 L262.96,369.81 L264.18,369.93 L265.41,370.05 L266.63,370.16 L267.86,370.27 L269.08,370.39 L270.30,370.50 L271.53,370.61 L272.75,370.71 L273.98,370.82 L275.20,370.93 L276.43,371.04 L277.65,371.14 L278.88,371.24 L280.10,371.35 L281.32,371.45 L282.55,371.55 L283.77,371.65 L285.00,371.75 L286.22,371.85 L287.45,371.94 L288.67,372.04 L289.90,372.14 L291.12,372.23 L292.35,372.32 L293.57,372.42 L294.80,372.51 L296.02,372.60 L297.25,372.69 L298.47,372.78 L299.70,372.87 L300.92,372.96 L302.15,373.05 L303.37,373.14 L304.60,373.23 L305.82,373.32 L307.05,373.41 L308.27,373.50 L309.50,373.59 L310.72,373.67 L311.95,373.76 L313.17,373.84 L314.40,373.93 L315.63,374.01 L316.85,374.09 L318.08,374.18 L319.30,374.26 L320.53,374.34 L321.75,374.42 L322.98,374.50 L324.20,374.57 L325.43,374.65 L326.66,374.73 L327.88,374.80 L329.11,374.88 L330.33,374.95 L331.56,375.03 L332.79,375.10 L334.01,375.17 L335.24,375.24 L336.46,375.32 L337.69,375.39 L338.92,375.45 L340.14,375.52 L341.37,375.59 L342.59,375.66 L343.82,375.73 L345.05,375.79 L346.27,375.85 L347.50,375.91 L348.73,375.97 L349.95,376.03 L351.18,376.09 L352.41,376.14 L353.63,376.20 L354.86,376.25 L356.09,376.31 L357.32,376.36 L358.54,376.42 L359.77,376.47 L361.00,376.52 L362.22,376.57 L363.45,376.63 L364.68,376.68 L365.91,376.73 L367.13,376.78 L368.36,376.83 L369.59,376.88 L370.81,376.92 L372.04,376.97 L373.27,377.02 L374.50,377.07 L375.72,377.11 L376.95,377.16 L378.18,377.20 L379.41,377.25 L380.64,377.29 L381.86,377.34 L383.09,377.38 L384.32,377.42 L385.55,377.47 L386.77,377.51 L388.00,377.55 L389.23,377.59 L390.46,377.63 L391.69,377.67 L392.91,377.71 L394.14,377.75 L395.37,377.79 L396.60,377.83 L397.83,377.87 L399.05,377.91 L400.28,377.95 L401.51,377.99 L402.74,378.02 L403.97,378.06 L405.19,378.10 L406.42,378.13 L407.65,378.17 L408.88,378.20 L410.11,378.24 L411.34,378.27 L412.56,378.31 L413.79,378.34 L415.02,378.37 L416.25,378.41 L417.48,378.44 L418.71,378.47 L419.94,378.51 L421.16,378.54 L422.39,378.57 L423.62,378.60 L424.85,378.63 L426.08,378.66 L427.31,378.69 L428.54,378.72 L429.76,378.75 L430.99,378.78 L432.22,378.81 L433.45,378.84 L434.68,378.87 L435.91,378.90 L437.14,378.92 L438.37,378.95 L439.60,378.98 L440.82,379.01 L442.05,379.03 L443.28,379.06 L444.51,379.08 L445.74,379.11 L446.97,379.14 L448.20,379.16 L449.43,379.19 L450.66,379.21 L451.88,379.24 L453.11,379.26 L454.34,379.28 L455.57,379.31 L456.80,379.33 L458.03,379.36 L459.26,379.38 L460.49,379.40 L461.72,379.42 L462.95,379.45 L464.18,379.47 L465.41,379.49 L466.63,379.51 L467.86,379.53 L469.09,379.55 L470.32,379.58 L471.55,379.60 L472.78,379.62 L474.01,379.64 L475.24,379.66 L476.47,379.68 L477.70,379.70 L478.93,379.72 L480.16,379.74 L481.39,379.76 L482.62,379.77 L483.85,379.79 L485.07,379.81 L486.30,379.83 L487.53,379.85 L488.76,379.87 L489.99,379.89 L491.22,379.90 L492.45,379.92 L493.68,379.94 L494.91,379.96 L496.14,379.97 L497.37,379.99 L498.60,380.01 L499.83,380.02 L501.06,380.04 L502.29,380.06 L503.52,380.07 L504.75,380.09 L505.98,380.10 L507.21,380.12 L508.44,380.14 L509.67,380.15 L510.89,380.17 L512.12,380.18 L513.35,380.20 L514.58,380.21 L515.81,380.23 L517.04,380.24 L518.27,380.26 L519.50,380.27 L520.73,380.29 L521.96,380.30 L523.19,380.32 L524.42,380.33 L525.65,380.35 L526.88,380.36 L528.11,380.37 L529.34,380.39 L530.57,380.40 L531.80,380.42 L533.03,380.43 L534.26,380.44 L535.49,380.46 L536.72,380.47 L537.95,380.49 L539.18,380.50 L540.41,380.51 L541.64,380.53 L542.87,380.54 L544.10,380.55 L545.33,380.57 L546.56,380.58 L547.78,380.59 L549.01,380.61 L550.24,380.62 L551.47,380.63 L552.70,380.65 L553.93,380.66 L555.16,380.67 L556.39,380.69 L557.62,380.70 L558.85,380.71 L560.08,380.72 L561.31,380.74 L562.54,380.75 L563.77,380.76 L565.00,380.78 L566.23,380.79 L567.46,380.80 L568.69,380.82 L569.92,380.83 L571.15,380.84 L572.38,380.86 L573.61,380.87 L574.84,380.88 L576.07,380.90 L577.30,380.91 L578.53,380.92 L579.76,380.94 L580.99,380.95 L582.21,380.96 L583.44,380.98 L584.67,380.99 L585.90,381.01 L587.13,381.02 L588.36,381.03 L589.59,381.05 L590.82,381.06 L592.05,381.07 L593.28,381.09 L594.51,381.10 L595.74,381.12 L596.97,381.13 L598.20,381.15 L599.43,381.16 L600.66,381.18 L601.89,381.19 L603.12,381.21 L604.35,381.22 L605.57,381.24 L606.80,381.25 L608.03,381.27 L609.26,381.28 L610.49,381.30 L611.72,381.31 L612.95,381.33 L614.18,381.34 L615.41,381.36 L616.64,381.38 L617.87,381.39 L619.10,381.41 L620.33,381.42 L621.56,381.44 L622.78,381.46 L624.01,381.48 L625.24,381.49 L626.47,381.51 L627.70,381.53 L628.93,381.54 L630.16,381.56 L631.39,381.58 L632.62,381.60 L633.85,381.62 L635.08,381.64 L636.31,381.65 L637.53,381.67 L638.76,381.69 L639.99,381.71 L641.22,381.73 L641.17,385.13 L639.94,385.11 L638.71,385.09 L637.48,385.07 L636.25,385.05 L635.02,385.03 L633.80,385.02 L632.57,385.00 L631.34,384.98 L630.11,384.96 L628.88,384.94 L627.65,384.93 L626.42,384.91 L625.20,384.89 L623.97,384.88 L622.74,384.86 L621.51,384.84 L620.28,384.82 L619.05,384.81 L617.82,384.79 L616.59,384.78 L615.37,384.76 L614.14,384.74 L612.91,384.73 L611.68,384.71 L610.45,384.70 L609.22,384.68 L607.99,384.67 L606.76,384.65 L605.53,384.63 L604.30,384.62 L603.07,384.60 L601.85,384.59 L600.62,384.58 L599.39,384.56 L598.16,384.55 L596.93,384.53 L595.70,384.52 L594.47,384.50 L593.24,384.49 L592.01,384.47 L590.78,384.46 L589.55,384.45 L588.32,384.43 L587.09,384.42 L585.87,384.40 L584.64,384.39 L583.41,384.38 L582.18,384.36 L580.95,384.35 L579.72,384.34 L578.49,384.32 L577.26,384.31 L576.03,384.30 L574.80,384.28 L573.57,384.27 L572.34,384.26 L571.11,384.24 L569.88,384.23 L568.65,384.22 L567.42,384.20 L566.19,384.19 L564.96,384.18 L563.73,384.16 L562.50,384.15 L561.27,384.14 L560.05,384.12 L558.82,384.11 L557.59,384.10 L556.36,384.09 L555.13,384.07 L553.90,384.06 L552.67,384.05 L551.44,384.03 L550.21,384.02 L548.98,384.01 L547.75,383.99 L546.52,383.98 L545.29,383.97 L544.06,383.95 L542.83,383.94 L541.60,383.93 L540.37,383.91 L539.14,383.90 L537.91,383.89 L536.68,383.87 L535.45,383.86 L534.22,383.84 L532.99,383.83 L531.76,383.82 L530.53,383.80 L529.30,383.79 L528.07,383.77 L526.84,383.76 L525.61,383.75 L524.38,383.73 L523.15,383.72 L521.92,383.70 L520.69,383.69 L519.46,383.67 L518.23,383.66 L517.00,383.64 L515.77,383.63 L514.54,383.61 L513.31,383.60 L512.08,383.58 L510.85,383.57 L509.62,383.55 L508.39,383.54 L507.16,383.52 L505.93,383.50 L504.70,383.49 L503.47,383.47 L502.24,383.46 L501.01,383.44 L499.78,383.42 L498.55,383.41 L497.32,383.39 L496.09,383.37 L494.86,383.36 L493.63,383.34 L492.40,383.32 L491.17,383.30 L489.94,383.28 L488.71,383.27 L487.48,383.25 L486.25,383.23 L485.02,383.21 L483.79,383.19 L482.56,383.17 L481.33,383.16 L480.10,383.14 L478.87,383.12 L477.64,383.10 L476.41,383.08 L475.18,383.06 L473.95,383.04 L472.72,383.02 L471.49,383.00 L470.26,382.98 L469.03,382.95 L467.80,382.93 L466.57,382.91 L465.35,382.89 L464.12,382.87 L462.89,382.85 L461.66,382.82 L460.43,382.80 L459.20,382.78 L457.97,382.75 L456.74,382.73 L455.51,382.71 L454.28,382.68 L453.05,382.66 L451.82,382.64 L450.59,382.61 L449.36,382.59 L448.13,382.56 L446.90,382.54 L445.67,382.51 L444.44,382.48 L443.21,382.46 L441.98,382.43 L440.75,382.40 L439.52,382.38 L438.29,382.35 L437.06,382.32 L435.83,382.29 L434.60,382.27 L433.37,382.24 L432.14,382.21 L430.91,382.18 L429.68,382.15 L428.45,382.12 L427.22,382.09 L425.99,382.06 L424.76,382.03 L423.54,382.00 L422.31,381.97 L421.08,381.94 L419.85,381.90 L418.62,381.87 L417.39,381.84 L416.16,381.81 L414.93,381.77 L413.70,381.74 L412.47,381.71 L411.24,381.67 L410.01,381.64 L408.78,381.60 L407.55,381.57 L406.32,381.53 L405.09,381.49 L403.87,381.46 L402.64,381.42 L401.41,381.38 L400.18,381.35 L398.95,381.31 L397.72,381.27 L396.49,381.23 L395.26,381.19 L394.03,381.15 L392.80,381.11 L391.57,381.07 L390.34,381.03 L389.12,380.99 L387.89,380.95 L386.66,380.91 L385.43,380.86 L384.20,380.82 L382.97,380.78 L381.74,380.73 L380.51,380.69 L379.28,380.65 L378.05,380.60 L376.83,380.56 L375.60,380.51 L374.37,380.46 L373.14,380.42 L371.91,380.37 L370.68,380.32 L369.45,380.27 L368.22,380.22 L367.00,380.17 L365.77,380.12 L364.54,380.07 L363.31,380.02 L362.08,379.97 L360.85,379.92 L359.62,379.87 L358.39,379.81 L357.17,379.76 L355.94,379.71 L354.71,379.65 L353.48,379.59 L352.25,379.54 L351.02,379.48 L349.79,379.42 L348.57,379.37 L347.34,379.31 L346.11,379.25 L344.88,379.19 L343.65,379.13 L342.42,379.08 L341.19,379.02 L339.97,378.97 L338.74,378.91 L337.51,378.85 L336.28,378.79 L335.05,378.74 L333.82,378.68 L332.59,378.62 L331.37,378.55 L330.14,378.49 L328.91,378.43 L327.68,378.37 L326.45,378.30 L325.22,378.24 L323.99,378.17 L322.77,378.11 L321.54,378.04 L320.31,377.97 L319.08,377.90 L317.85,377.83 L316.62,377.76 L315.39,377.69 L314.17,377.62 L312.94,377.55 L311.71,377.48 L310.48,377.40 L309.25,377.33 L308.02,377.25 L306.79,377.18 L305.57,377.10 L304.34,377.02 L303.11,376.94 L301.88,376.86 L300.65,376.78 L299.42,376.70 L298.20,376.61 L296.97,376.52 L295.74,376.43 L294.51,376.34 L293.29,376.25 L292.06,376.15 L290.83,376.06 L289.60,375.96 L288.37,375.87 L287.15,375.77 L285.92,375.68 L284.69,375.58 L283.46,375.48 L282.24,375.38 L281.01,375.28 L279.78,375.17 L278.55,375.07 L277.32,374.97 L276.10,374.86 L274.87,374.76 L273.64,374.65 L272.41,374.54 L271.19,374.43 L269.96,374.32 L268.73,374.21 L267.50,374.10 L266.28,373.98 L265.05,373.87 L263.82,373.75 L262.59,373.64 L261.37,373.52 L260.14,373.40 L258.91,373.27 L257.68,373.15 L256.45,373.02 L255.23,372.90 L254.00,372.77 L252.77,372.64 L251.55,372.50 L250.32,372.37 L249.09,372.23 L247.87,372.09 L246.64,371.94 L245.42,371.80 L244.19,371.65 L242.97,371.50 L241.74,371.35 L240.52,371.19 L239.29,371.03 L238.07,370.87 L236.85,370.71 L235.62,370.54 L234.40,370.37 L233.18,370.19 L231.96,370.01 L230.74,369.83 L229.52,369.65 L228.30,369.46 L227.08,369.27 L225.86,369.07 L224.64,368.87 L223.42,368.67 L222.21,368.46 L220.99,368.25 L219.78,368.03 L218.56,367.81 L217.35,367.59 L216.13,367.36 L214.92,367.12 L213.71,366.89 L212.50,366.65 L211.29,366.40 L210.08,366.15 L208.87,365.89 L207.67,365.63 L206.46,365.36 L205.25,365.09 L204.05,364.81 L202.85,364.53 L201.64,364.24 L200.44,363.95 L199.24,363.65 L198.04,363.35 L196.84,363.04 L195.65,362.73 L194.45,362.40 L193.26,362.08 L192.06,361.75 L190.87,361.41 L189.68,361.06 L188.49,360.71 L187.30,360.35 L186.11,359.99 L184.93,359.62 L183.74,359.24 L182.56,358.86 L181.38,358.47 L180.19,358.08 L179.02,357.67 L177.84,357.26 L176.66,356.84 L175.49,356.42 L174.31,355.99 L173.14,355.55 L171.97,355.10 L170.81,354.65 L169.64,354.18 L168.48,353.71 L167.33,353.23 L166.17,352.75 L165.02,352.25 L163.88,351.74 L162.74,351.23 L161.60,350.71 L160.47,350.18 L159.34,349.63 L158.21,349.08 L157.10,348.52 L155.98,347.95 L154.88,347.37 L153.77,346.78 L152.68,346.18 L151.59,345.57 L150.51,344.95 L149.43,344.31 L148.36,343.67 L147.30,343.02 L146.25,342.35 L145.20,341.67 L144.16,340.99 L143.13,340.29 L142.11,339.57 L141.09,338.85 L140.09,338.11 L139.09,337.37 L138.10,336.61 L137.12,335.83 L136.16,335.05 L135.20,334.25 L134.25,333.45 L133.31,332.63 L132.38,331.80 L131.47,330.96 L130.56,330.10 L129.66,329.24 L128.78,328.36 L127.90,327.48 L127.04,326.58 L126.18,325.68 L125.34,324.76 L124.51,323.83 L123.69,322.90 L122.88,321.95 L122.08,320.99 L121.30,320.03 L120.52,319.05 L119.76,318.07 L119.01,317.07 L118.27,316.07 L117.54,315.06 L116.83,314.04 L116.13,313.01 L115.44,311.97 L114.76,310.93 L114.09,309.88 L113.43,308.82 L112.79,307.75 L112.15,306.68 L111.53,305.60 L110.92,304.51 L110.31,303.42 L109.73,302.32 L109.15,301.21 L108.58,300.10 L108.03,298.98 L107.48,297.86 L106.94,296.73 L106.41,295.60 L105.89,294.47 L105.37,293.33 L104.87,292.18 L104.37,291.03 L103.88,289.88 L103.40,288.73 L102.93,287.57 L102.46,286.41 L102.00,285.24 L101.55,284.08 L101.10,282.91 L100.66,281.74 L100.23,280.57 L99.81,279.39 L99.39,278.22 L98.97,277.04 L98.56,275.86 L98.16,274.69 L97.76,273.51 L97.37,272.33 L96.98,271.14 L96.60,269.96 L96.22,268.78 L95.85,267.59 L95.49,266.41 L95.12,265.22 L94.77,264.03 L94.42,262.84 L94.07,261.66 L93.73,260.47 L93.39,259.27 L93.05,258.08 L92.72,256.89 L92.39,255.70 L92.07,254.51 L91.75,253.31 L91.43,252.12 L91.13,250.92 L90.82,249.72 L90.52,248.52 L90.22,247.33 L89.93,246.13 L89.64,244.93 L89.36,243.73 L89.08,242.52 L88.80,241.32 L88.53,240.12 L88.26,238.91 L88.00,237.71 L87.74,236.50 L87.48,235.30 L87.23,234.09 L86.98,232.88 L86.73,231.67 L86.49,230.47 L86.25,229.26 L86.02,228.05 L85.79,226.83 L85.56,225.62 L85.34,224.41 L85.12,223.20 L84.90,221.99 L84.68,220.77 L84.47,219.56 L84.26,218.34 L84.06,217.13 L83.86,215.91 L83.66,214.69 L83.46,213.48 L83.27,212.26 L83.08,211.04 L82.89,209.82 L82.70,208.61 L82.52,207.39 L82.34,206.17 L82.16,204.95 L81.99,203.73 L81.82,202.50 L81.65,201.28 L81.48,200.06 L81.32,198.84 L81.15,197.62 L80.99,196.40 L80.83,195.17 L80.68,193.95 L80.52,192.73 L80.37,191.50 L80.22,190.28 L80.07,189.05 L79.93,187.83 L79.78,186.60 L79.64,185.38 L79.50,184.15 L79.36,182.93 L79.23,181.70 L79.09,180.48 L78.96,179.25 L78.82,178.03 L78.69,176.80 L78.56,175.57 L78.43,174.35 L78.31,173.12 L78.18,171.89 L78.06,170.67 L77.93,169.44 L77.81,168.21 L77.69,166.99 L77.57,165.76 L77.45,164.53 L77.33,163.30 L77.22,162.08 L77.10,160.85 L76.98,159.62 L76.87,158.40 L76.75,157.17 L76.64,155.94 L76.53,154.72 L76.41,153.49 L76.30,152.26 L76.19,151.04 L76.08,149.81 L75.97,148.58 L75.86,147.36 L75.75,146.13 L75.64,144.90 L75.53,143.68 L75.42,142.45 L75.31,141.23 L75.20,140.00 L75.10,138.77 L74.99,137.55 L74.88,136.32 L74.78,135.10 L74.67,133.87 L74.56,132.65 L74.46,131.42 L74.35,130.19 L74.25,128.97 L74.15,127.74 L74.04,126.52 L73.94,125.29 L73.84,124.06 L73.73,122.84 L73.63,121.61 L73.53,120.39 L73.43,119.16 L73.33,117.94 L73.23,116.71 L73.13,115.49 L73.03,114.26 L72.93,113.03 L72.84,111.81 L72.74,110.58 L72.64,109.36 L72.55,108.13 L72.45,106.91 L72.35,105.68 L72.26,104.45 L72.17,103.23 L72.07,102.00 L71.98,100.78 L71.89,99.55 L71.79,98.33 L71.70,97.10 L71.61,95.87 L71.52,94.65 L71.43,93.42 L71.34,92.20 L71.25,90.97 L71.17,89.74 L71.08,88.52 L70.99,87.29 L70.91,86.07 L70.82,84.84 L70.73,83.61 L70.65,82.39 L70.57,81.16 L70.48,79.93 L70.40,78.71 L70.32,77.48 L70.24,76.25 L70.16,75.03 L70.08,73.80 L70.00,72.57 L69.92,71.35 L69.84,70.12 L69.76,68.89 L69.69,67.67 L69.61,66.44 L69.54,65.21 L69.46,63.99 L69.39,62.76 L69.31,61.53 L69.24,60.30 L69.17,59.08 L69.10,57.85 L69.03,56.62 L68.96,55.39 L68.89,54.16 L68.82,52.94 L68.75,51.71 L68.69,50.48 L68.62,49.25 L68.55,48.02 L68.49,46.80 L68.43,45.57 L68.36,44.34 L68.30,43.11 L68.24,41.88 L68.18,40.65 L68.12,39.42 L68.06,38.19 L68.00,36.96 L67.94,35.73 L67.89,34.50 L67.83,33.28 L67.77,32.05 L67.72,30.82 L67.67,29.59 L67.61,28.36 L67.56,27.13 L67.51,25.89 L67.46,24.66 L67.41,23.43 L67.36,22.20 L67.31,20.97 L67.27,19.74 L67.22,18.51 L67.18,17.28 L67.13,16.05 L67.09,14.82 L67.05,13.58 L67.00,12.35 L66.96,11.12 L66.92,9.89 L66.88,8.65 L66.85,7.42 L66.81,6.19 L66.77,4.96 L66.74,3.72 L66.70,2.49 L66.67,1.26 L66.64,0.02 L66.48,-5.96 Z" fill="#ff0000" stroke="none"/>
<path d="M641.5,370 V383.5" stroke="#444" stroke-width="1" fill="none"/>
<path d="M102.4,373.3 L246.2,186.6" stroke="#303030" stroke-width="1.3" fill="none"/>
<path d="M252.9,177.9 L237.1,187.3 L245.9,186.9 L248.3,194.2 Z" fill="#000" stroke="#000" stroke-width="0.8" stroke-linejoin="miter"/>
<rect x="203.2" y="144.4" width="114.4" height="25.4" fill="#fff" stroke="#555" stroke-width="1.5"/>
<text transform="translate(212.20,164.50) scale(1.155,1)" font-family="Liberation Sans, Arial, Helvetica, sans-serif" font-size="15" fill="#000" style="font-kerning:none" stroke="#000" stroke-width="0.2">A = 0.1, 1.1</text>
<rect x="258.00" y="163.00" width="4.19" height="3.00" fill="#fff"/>
<rect x="263.95" y="163.00" width="4.05" height="3.00" fill="#fff"/>
<rect x="277.00" y="163.00" width="4.45" height="3.00" fill="#fff"/>
<rect x="283.21" y="163.00" width="3.79" height="3.00" fill="#fff"/>
<rect x="292.00" y="163.00" width="3.90" height="3.00" fill="#fff"/>
<rect x="297.66" y="163.00" width="4.34" height="3.00" fill="#fff"/>
<text transform="translate(134.94,405.80) scale(1.14,1)" font-family="Liberation Sans, Arial, Helvetica, sans-serif" font-size="15.3" fill="#262626" style="font-kerning:none" stroke="#262626" stroke-width="0.15">0.5</text>
<text transform="translate(241.74,405.80) scale(1.14,1)" font-family="Liberation Sans, Arial, Helvetica, sans-serif" font-size="15.3" fill="#262626" style="font-kerning:none" stroke="#262626" stroke-width="0.15">1</text>
<rect x="242.00" y="404.00" width="4.04" height="3.00" fill="#fff"/>
<rect x="247.75" y="404.00" width="4.25" height="3.00" fill="#fff"/>
<text transform="translate(332.59,405.80) scale(1.14,1)" font-family="Liberation Sans, Arial, Helvetica, sans-serif" font-size="15.3" fill="#262626" style="font-kerning:none" stroke="#262626" stroke-width="0.15">1.5</text>
<rect x="333.00" y="404.00" width="3.89" height="3.00" fill="#fff"/>
<rect x="338.61" y="404.00" width="4.39" height="3.00" fill="#fff"/>
<text transform="translate(438.69,405.80) scale(1.14,1)" font-family="Liberation Sans, Arial, Helvetica, sans-serif" font-size="15.3" fill="#262626" style="font-kerning:none" stroke="#262626" stroke-width="0.15">2</text>
<text transform="translate(530.25,405.80) scale(1.14,1)" font-family="Liberation Sans, Arial, Helvetica, sans-serif" font-size="15.3" fill="#262626" style="font-kerning:none" stroke="#262626" stroke-width="0.15">2.5</text>
<text transform="translate(50.70,388.80) scale(1.14,1)" font-family="Liberation Sans, Arial, Helvetica, sans-serif" font-size="15.3" fill="#262626" style="font-kerning:none" stroke="#262626" stroke-width="0.15">0</text>
<text transform="translate(36.15,350.50) scale(1.14,1)" font-family="Liberation Sans, Arial, Helvetica, sans-serif" font-size="15.3" fill="#262626" style="font-kerning:none" stroke="#262626" stroke-width="0.15">0.1</text>
<rect x="51.00" y="349.00" width="4.00" height="3.00" fill="#fff"/>
<rect x="56.71" y="349.00" width="4.29" height="3.00" fill="#fff"/>
<text transform="translate(36.15,312.20) scale(1.14,1)" font-family="Liberation Sans, Arial, Helvetica, sans-serif" font-size="15.3" fill="#262626" style="font-kerning:none" stroke="#262626" stroke-width="0.15">0.2</text>
<text transform="translate(36.15,273.90) scale(1.14,1)" font-family="Liberation Sans, Arial, Helvetica, sans-serif" font-size="15.3" fill="#262626" style="font-kerning:none" stroke="#262626" stroke-width="0.15">0.3</text>
<text transform="translate(36.15,235.60) scale(1.14,1)" font-family="Liberation Sans, Arial, Helvetica, sans-serif" font-size="15.3" fill="#262626" style="font-kerning:none" stroke="#262626" stroke-width="0.15">0.4</text>
<text transform="translate(36.15,197.30) scale(1.14,1)" font-family="Liberation Sans, Arial, Helvetica, sans-serif" font-size="15.3" fill="#262626" style="font-kerning:none" stroke="#262626" stroke-width="0.15">0.5</text>
<text transform="translate(36.15,159.00) scale(1.14,1)" font-family="Liberation Sans, Arial, Helvetica, sans-serif" font-size="15.3" fill="#262626" style="font-kerning:none" stroke="#262626" stroke-width="0.15">0.6</text>
<text transform="translate(36.15,120.70) scale(1.14,1)" font-family="Liberation Sans, Arial, Helvetica, sans-serif" font-size="15.3" fill="#262626" style="font-kerning:none" stroke="#262626" stroke-width="0.15">0.7</text>
<text transform="translate(36.15,82.40) scale(1.14,1)" font-family="Liberation Sans, Arial, Helvetica, sans-serif" font-size="15.3" fill="#262626" style="font-kerning:none" stroke="#262626" stroke-width="0.15">0.8</text>
<text transform="translate(36.15,44.10) scale(1.14,1)" font-family="Liberation Sans, Arial, Helvetica, sans-serif" font-size="15.3" fill="#262626" style="font-kerning:none" stroke="#262626" stroke-width="0.15">0.9</text>
<rect x="417.4" y="15.9" width="206.1" height="71.5" fill="#fff" stroke="#4d4d4d" stroke-width="1.2"/>
<path d="M422.2,26.8 H462.3" stroke="#0000ff" stroke-width="3.1" stroke-dasharray="13.4 12.8" fill="none"/>
<path d="M422.2,48.3 H462.3" stroke="#ff00ff" stroke-width="3.1" stroke-dasharray="13.4 3.3 6.6 3.2" fill="none"/>
<path d="M422.2,72.8 H462.3" stroke="#ff0000" stroke-width="3.7" fill="none"/>
<text transform="translate(465.80,31.60) scale(1.15,1)" font-family="Liberation Sans, Arial, Helvetica, sans-serif" font-size="13.2" text-anchor="start" fill="#000" stroke="#000" stroke-width="0.3" letter-spacing="0.3">Cu/Water</text>
<text transform="translate(465.80,51.10) scale(1.15,1)" font-family="Liberation Sans, Arial, Helvetica, sans-serif" font-size="13.2" text-anchor="start" fill="#000" stroke="#000" stroke-width="0.3" letter-spacing="0.3">Cu-Al<tspan dy="6.5" font-size="10.3">2</tspan><tspan dy="-6.5" dx="0.4">O</tspan><tspan dy="6.5" font-size="10.3">3</tspan><tspan dy="-6.5" dx="0.4">/Water</tspan></text>
<text transform="translate(465.80,75.40) scale(1.15,1)" font-family="Liberation Sans, Arial, Helvetica, sans-serif" font-size="13.2" text-anchor="start" fill="#000" stroke="#000" stroke-width="0.3" letter-spacing="0.3">Cu-Al<tspan dy="6.5" font-size="10.3">2</tspan><tspan dy="-6.5" dx="0.4">O</tspan><tspan dy="6.5" font-size="10.3">3</tspan><tspan dy="-6.5" dx="0.4">-TiO</tspan><tspan dy="6.5" font-size="10.3">2</tspan><tspan dy="-6.5" dx="0.4">/Water</tspan></text>
<text transform="translate(347,441) scale(1.15,1)" font-family="Liberation Serif, DejaVu Serif, serif" font-style="italic" font-size="29" fill="#262626" stroke="#fff" stroke-width="0.45">η</text>
<text transform="translate(23,214.8) rotate(-90) scale(1,1.09)" font-family="Liberation Serif, DejaVu Serif, serif" font-size="28.5" fill="#262626"><tspan font-style="italic">ϕ</tspan><tspan stroke="#262626" stroke-width="0.35" dx="0.3">(</tspan><tspan font-style="italic" dx="0.6">η</tspan><tspan stroke="#262626" stroke-width="0.35">)</tspan></text>
</svg>
</body></html>
